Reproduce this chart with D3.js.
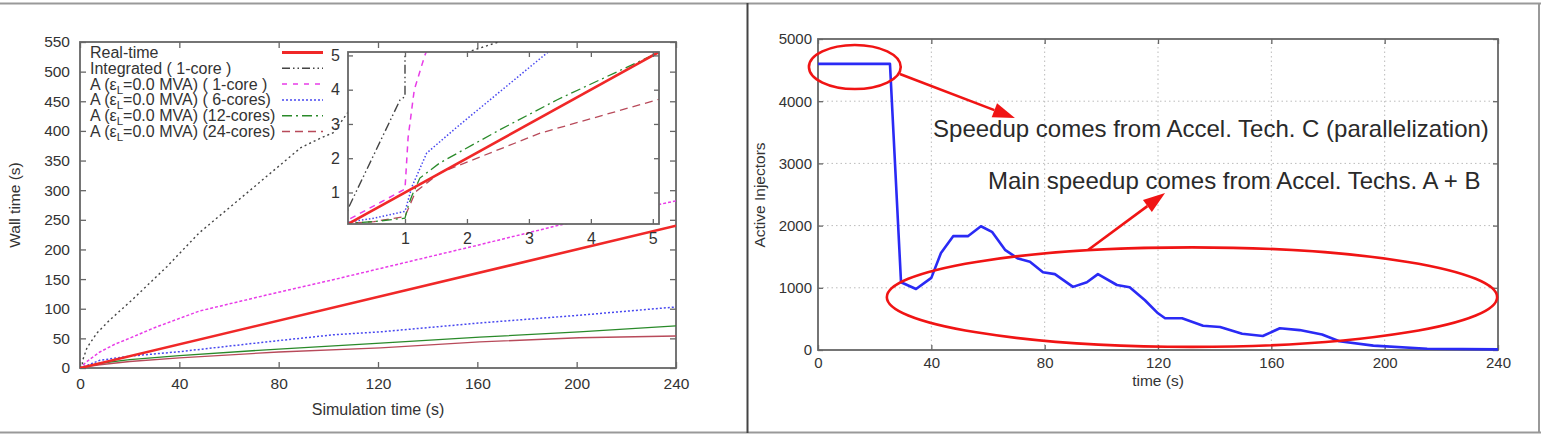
<!DOCTYPE html>
<html>
<head>
<meta charset="utf-8">
<script src="https://cdnjs.cloudflare.com/ajax/libs/d3/7.8.5/d3.min.js"></script>
<style>
body { margin: 0; background: #fff; }
svg { display: block; font-family: "Liberation Sans", Arial, sans-serif; }
</style>
</head>
<body>
<div class="container"></div>
<script>
// ---- left panel: wall time vs simulation time ----
var simTicks = [0, 40, 80, 120, 160, 200, 240];
var wallTicks = [0, 50, 100, 150, 200, 250, 300, 350, 400, 450, 500, 550];
var insetTicks = [1, 2, 3, 4, 5];
var legendLabels = ["Real-time", "Integrated ( 1-core )", "A (ε_L=0.0 MVA) ( 1-core )",
  "A (ε_L=0.0 MVA) ( 6-cores)", "A (ε_L=0.0 MVA) (12-cores)", "A (ε_L=0.0 MVA) (24-cores)"];

var realTimeT = [0, 240];
var realTimeW = [0, 240];
var integratedT = [0, 0.1, 0.92, 1.0, 1.0, 2.8, 6.8, 12, 21, 35, 48, 64, 89, 97, 102, 108, 130, 156, 170];
var integratedW = [0, 0.6, 3.7, 3.8, 12, 34, 59, 81, 115, 171, 228, 284, 372, 388, 397, 432, 480, 533, 552];
var core1T = [0, 0.08, 1.0, 1.05, 1.15, 1.32, 2, 4, 8, 14, 21, 30, 48, 75, 102, 129, 160, 193, 220, 240];
var core1W = [0, 0.2, 1.1, 2.6, 4.0, 5.0, 8, 15, 27, 40, 52, 68, 96, 123, 149, 176, 207, 241, 264, 282];
var core6T = [0, 0.08, 0.5, 1.0, 1.11, 1.35, 1.84, 2.37, 3.31, 5, 8, 20, 40, 75, 102, 121, 161, 201, 240];
var core6W = [0, 0.14, 0.25, 0.45, 1.16, 2.15, 2.91, 3.7, 5.1, 8, 13, 20, 27.5, 44, 56, 61, 76, 89, 103];
var core12T = [0, 0.08, 0.5, 1.0, 1.05, 1.11, 1.24, 1.56, 2.5, 3.45, 5.06, 8, 20, 40, 80, 121, 161, 201, 240];
var core12W = [0, 0.1, 0.15, 0.25, 0.6, 0.9, 1.42, 1.86, 2.8, 3.7, 5.06, 8, 14, 21, 32, 42, 52, 61, 71];
var core24T = [0, 0.08, 0.5, 1.0, 1.17, 1.56, 3.18, 5.1, 8, 20, 40, 80, 121, 161, 201, 240];
var core24W = [0, 0.1, 0.15, 0.3, 1.02, 1.57, 2.73, 3.72, 5.5, 11, 17, 27, 34, 44, 51, 54];

// ---- right panel: active injectors ----
var injTicksX = [0, 40, 80, 120, 160, 200, 240];
var injTicksY = [0, 1000, 2000, 3000, 4000, 5000];
var injTime = [0, 25.4, 29.3, 34.6, 40, 43.4, 47.7, 52.9, 57.5, 61.4, 66, 70.6, 74.8, 79.4, 83.6, 90, 94.9,
  98.8, 105.5, 110, 115.4, 120, 122.5, 128.5, 135.9, 141.9, 149.7, 157, 163, 170, 177.9, 184, 196, 215, 240];
var injCount = [4600, 4600, 1090, 980, 1160, 1560, 1830, 1830, 1990, 1900, 1610, 1470, 1420, 1250, 1220, 1015, 1090,
  1220, 1045, 1010, 800, 590, 510, 510, 390, 370, 260, 225, 350, 320, 250, 140, 70, 20, 10];
var noteTexts = ["Speedup comes from Accel. Tech. C (parallelization)", "Main speedup comes from Accel. Techs. A + B"];

const WIDTH = 1541;
const HEIGHT = 435;
const FRAME = "#666";

var zip = function(a, b) { return a.map(function(v, i) { return [v, b[i]]; }); };

var svg = d3.select('.container').append('svg')
  .attr('width', WIDTH)
  .attr('height', HEIGHT);

// outer panel borders
svg.append('line').attr('x1', 0).attr('x2', WIDTH).attr('y1', 3.5).attr('y2', 3.5)
  .attr('stroke', '#999').attr('stroke-width', 2);
svg.append('line').attr('x1', 0).attr('x2', WIDTH).attr('y1', 432.5).attr('y2', 432.5)
  .attr('stroke', '#999').attr('stroke-width', 2);
svg.append('line').attr('x1', 747.5).attr('x2', 747.5).attr('y1', 3).attr('y2', 433)
  .attr('stroke', '#444').attr('stroke-width', 2);
svg.append('line').attr('x1', 1539).attr('x2', 1539).attr('y1', 3).attr('y2', 433)
  .attr('stroke', '#999').attr('stroke-width', 2);

var styleAxis = function(g, size) {
  g.select('.domain').remove();
  g.selectAll('.tick line').attr('stroke', FRAME).attr('stroke-width', 1.3);
  g.selectAll('.tick text').attr('fill', '#333').style('font-size', size + 'px')
    .style('font-family', '"Liberation Sans", Arial, sans-serif');
};

var fmt = d3.format('d');

var frameAxes = function(x, y, xt, yt, tick, pad, size) {
  var x0 = x.range()[0], x1 = x.range()[1], y0 = y.range()[0], y1 = y.range()[1];
  svg.append('g').attr('transform', 'translate(0,' + y0 + ')')
    .call(d3.axisBottom(x).tickValues(xt).tickFormat(fmt).tickSizeInner(-tick).tickSizeOuter(0).tickPadding(pad[0]))
    .call(styleAxis, size);
  svg.append('g').attr('transform', 'translate(0,' + y1 + ')')
    .call(d3.axisTop(x).tickValues(xt).tickSizeInner(-tick).tickSizeOuter(0).tickFormat(''))
    .call(styleAxis, size);
  svg.append('g').attr('transform', 'translate(' + x0 + ',0)')
    .call(d3.axisLeft(y).tickValues(yt).tickFormat(fmt).tickSizeInner(-tick).tickSizeOuter(0).tickPadding(pad[1]))
    .call(styleAxis, size);
  svg.append('g').attr('transform', 'translate(' + x1 + ',0)')
    .call(d3.axisRight(y).tickValues(yt).tickSizeInner(-tick).tickSizeOuter(0).tickFormat(''))
    .call(styleAxis, size);
  svg.append('rect').attr('x', x0).attr('y', y1).attr('width', x1 - x0).attr('height', y0 - y1)
    .attr('fill', 'none').attr('stroke', FRAME).attr('stroke-width', 1.8);
};

var clip = function(id, x, y) {
  svg.append('clipPath').attr('id', id).append('rect')
    .attr('x', x.range()[0]).attr('y', y.range()[1])
    .attr('width', x.range()[1] - x.range()[0]).attr('height', y.range()[0] - y.range()[1]);
};

// ---------- left chart ----------
var xMain = d3.scaleLinear().domain([0, 240]).range([80, 676]);
var yMain = d3.scaleLinear().domain([0, 550]).range([368, 42]);
var xIn = d3.scaleLinear().domain([0.08, 5.1]).range([348, 659]);
var yIn = d3.scaleLinear().domain([0.08, 5.1]).range([224, 52]);

var series = [
  {pts: zip(realTimeT, realTimeW), color: '#f02828', w: 2.6, main: null, inset: null, legend: null},
  {pts: zip(integratedT, integratedW), color: '#444', w: 1.4, main: '2,3', inset: '9,3,1.5,3,1.5,3', legend: '8,3,1.5,3,1.5,3'},
  {pts: zip(core1T, core1W), color: '#e83ce8', w: 1.5, main: '3,2', inset: '6,5', legend: '5,6'},
  {pts: zip(core6T, core6W), color: '#4848f0', w: 1.5, main: '2,2', inset: '1.5,2', legend: '2,2'},
  {pts: zip(core12T, core12W), color: '#2a8a2a', w: 1.3, main: null, inset: '10,4,2,4', legend: '10,4,2,4'},
  {pts: zip(core24T, core24W), color: '#b84a5a', w: 1.3, main: null, inset: '8,5', legend: '8,5'}
];

clip('clipMain', xMain, yMain);
clip('clipInset', xIn, yIn);

frameAxes(xMain, yMain, simTicks, wallTicks, 6, [10, 10], 15.5);

var mainLine = d3.line().x(function(d) { return xMain(d[0]); }).y(function(d) { return yMain(d[1]); });
var mainG = svg.append('g').attr('clip-path', 'url(#clipMain)');
series.slice().reverse().forEach(function(s) {
  mainG.append('path').attr('d', mainLine(s.pts)).attr('fill', 'none')
    .attr('stroke', s.color).attr('stroke-width', s.w)
    .attr('stroke-dasharray', s.main);
});

// inset
svg.append('rect').attr('x', xIn.range()[0]).attr('y', yIn.range()[1])
  .attr('width', xIn.range()[1] - xIn.range()[0]).attr('height', yIn.range()[0] - yIn.range()[1])
  .attr('fill', '#fff');
var insetLine = d3.line().x(function(d) { return xIn(d[0]); }).y(function(d) { return yIn(d[1]); });
var insetG = svg.append('g').attr('clip-path', 'url(#clipInset)');
series.slice().reverse().forEach(function(s) {
  insetG.append('path').attr('d', insetLine(s.pts)).attr('fill', 'none')
    .attr('stroke', s.color).attr('stroke-width', s.w)
    .attr('stroke-dasharray', s.inset);
});
frameAxes(xIn, yIn, insetTicks, insetTicks, 5, [9, 8], 16);

// legend
var legend = svg.append('g').attr('transform', 'translate(90,52.5)');
legendLabels.forEach(function(lab, i) {
  var row = legend.append('g').attr('transform', 'translate(0,' + (i * 15.8) + ')');
  var t = row.append('text').attr('y', 5.5).attr('fill', '#333').style('font-size', '16px');
  var parts = lab.split('_L');
  t.append('tspan').text(parts[0]);
  if (parts.length > 1) {
    t.append('tspan').attr('dy', 4).style('font-size', '11.5px').text('L');
    t.append('tspan').attr('dy', -4).text(parts[1]);
  }
  var s = series[i];
  row.append('line').attr('x1', 192).attr('x2', 233).attr('y1', 0).attr('y2', 0)
    .attr('stroke', s.color).attr('stroke-width', i === 0 ? 3 : 1.5)
    .attr('stroke-dasharray', s.legend);
});

svg.append('text').attr('transform', 'translate(20,205) rotate(-90)')
  .attr('text-anchor', 'middle').attr('fill', '#333').style('font-size', '15.5px')
  .text('Wall time (s)');
svg.append('text').attr('x', 378).attr('y', 415)
  .attr('text-anchor', 'middle').attr('fill', '#333').style('font-size', '16px')
  .text('Simulation time (s)');

// ---------- right chart ----------
var xR = d3.scaleLinear().domain([0, 240]).range([818, 1498]);
var yR = d3.scaleLinear().domain([0, 5000]).range([350, 39]);

var grid = svg.append('g');
injTicksX.slice(1, -1).forEach(function(v) {
  grid.append('line').attr('x1', xR(v)).attr('x2', xR(v)).attr('y1', yR(0)).attr('y2', yR(5000))
    .attr('stroke', '#bbb').attr('stroke-width', 1).attr('stroke-dasharray', '1.5,3');
});
injTicksY.slice(1, -1).forEach(function(v) {
  grid.append('line').attr('x1', xR(0)).attr('x2', xR(240)).attr('y1', yR(v)).attr('y2', yR(v))
    .attr('stroke', '#bbb').attr('stroke-width', 1).attr('stroke-dasharray', '1.5,3');
});

frameAxes(xR, yR, injTicksX, injTicksY, 5, [7, 6], 15);

var injLine = d3.line().x(function(d) { return xR(d[0]); }).y(function(d) { return yR(d[1]); });
svg.append('path').attr('d', injLine(zip(injTime, injCount)))
  .attr('fill', 'none').attr('stroke', '#2a2af5').attr('stroke-width', 2.6)
  .attr('stroke-linejoin', 'round');

svg.append('text').attr('transform', 'translate(765,195) rotate(-90)')
  .attr('text-anchor', 'middle').attr('fill', '#333').style('font-size', '15.5px')
  .text('Active Injectors');
svg.append('text').attr('x', xR(120)).attr('y', 386)
  .attr('text-anchor', 'middle').attr('fill', '#333').style('font-size', '15.5px')
  .text('time (s)');

// annotations
var RED = '#f01414';
var drawArrow = function(x1, y1, x2, y2) {
  var ang = Math.atan2(y2 - y1, x2 - x1), len = 22, hw = 7.5;
  var bx = x2 - len * Math.cos(ang), by = y2 - len * Math.sin(ang);
  svg.append('line').attr('x1', x1).attr('y1', y1).attr('x2', bx).attr('y2', by)
    .attr('stroke', RED).attr('stroke-width', 2.6);
  var px = -Math.sin(ang) * hw, py = Math.cos(ang) * hw;
  svg.append('path')
    .attr('d', 'M' + x2 + ',' + y2 + 'L' + (bx + px) + ',' + (by + py) + 'L' + (bx - px) + ',' + (by - py) + 'Z')
    .attr('fill', RED);
};

svg.append('ellipse').attr('cx', xR(13)).attr('cy', yR(4550))
  .attr('rx', xR(16.2) - xR(0)).attr('ry', yR(0) - yR(354))
  .attr('fill', 'none').attr('stroke', RED).attr('stroke-width', 2.6);
svg.append('ellipse').attr('cx', xR(132)).attr('cy', yR(850))
  .attr('rx', xR(107.7) - xR(0)).attr('ry', yR(0) - yR(800))
  .attr('fill', 'none').attr('stroke', RED).attr('stroke-width', 2.6);

drawArrow(xR(28.9), yR(4437), xR(69.5), yR(3730));
drawArrow(xR(95.3), yR(1608), xR(122.5), yR(2524));

svg.append('text').attr('x', xR(40.6)).attr('y', yR(3424))
  .attr('fill', '#2a2a2a').style('font-size', '24px').text(noteTexts[0]);
svg.append('text').attr('x', xR(60)).attr('y', yR(2588))
  .attr('fill', '#2a2a2a').style('font-size', '24px').text(noteTexts[1]);
</script>
</body>
</html>
